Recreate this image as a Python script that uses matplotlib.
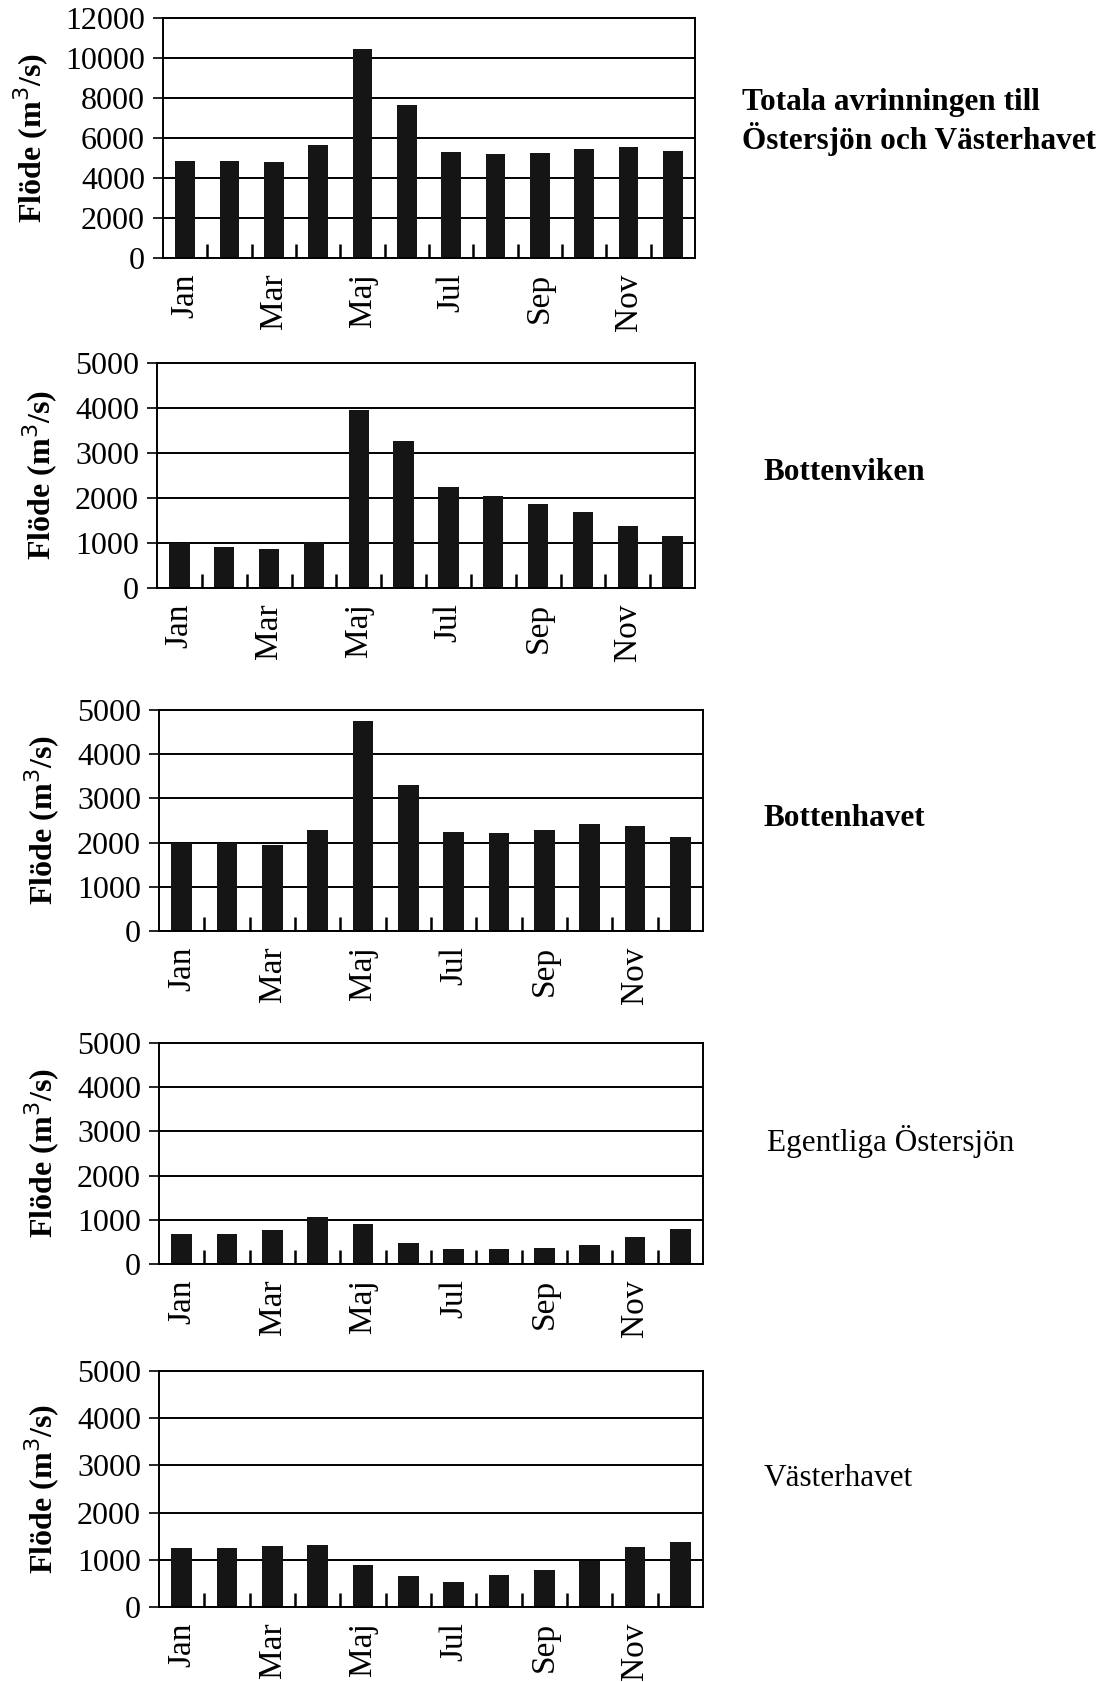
import numpy as np
import matplotlib
matplotlib.use("Agg")
import matplotlib.pyplot as plt

plt.rcParams["font.family"] = ["Liberation Serif", "DejaVu Serif"]

months = ["Jan", "Feb", "Mar", "Apr", "Maj", "Jun",
          "Jul", "Aug", "Sep", "Okt", "Nov", "Dec"]
shown_labels = ["Jan", "Mar", "Maj", "Jul", "Sep", "Nov"]

totala = [4850, 4850, 4800, 5650, 10450, 7650, 5300, 5200, 5250, 5450, 5550, 5350]
bottenviken = [1000, 920, 870, 1020, 3950, 3270, 2250, 2050, 1870, 1700, 1380, 1150]
bottenhavet = [1980, 1980, 1940, 2280, 4750, 3300, 2240, 2220, 2290, 2430, 2370, 2130]
egentliga = [680, 690, 780, 1060, 900, 480, 340, 330, 370, 430, 620, 790]
vasterhavet = [1250, 1250, 1290, 1320, 900, 660, 540, 680, 780, 980, 1270, 1380]

titles = ["Totala avrinningen till\nÖstersjön och Västerhavet",
          "Bottenviken", "Bottenhavet", "Egentliga Östersjön", "Västerhavet"]
title_bold = [True, True, True, False, False]
series = [totala, bottenviken, bottenhavet, egentliga, vasterhavet]
ymax = [12000, 5000, 5000, 5000, 5000]
ystep = [2000, 1000, 1000, 1000, 1000]

W, H = 1102, 1682
# axes boxes in pixels: left, right, top, bottom
boxes = [(163, 695, 18, 258),
         (157, 695, 363, 588),
         (159, 703, 710, 931),
         (159, 703, 1043, 1264),
         (159, 703, 1371, 1607)]
title_pos = [(742, 122), (764, 472), (764, 818), (767, 1141), (764, 1478)]
label_pad = [10, 11, 11, 11, 11]

fig = plt.figure(figsize=(W / 100, H / 100), dpi=100)
x = np.arange(len(months))

for vals, ym, st, box, ttl, bold, tp, lp in zip(series, ymax, ystep, boxes, titles,
                                                 title_bold, title_pos, label_pad):
    l, r, t, b = box
    ax = fig.add_axes([l / W, 1 - b / H, (r - l) / W, (b - t) / H])
    ax.set_axisbelow(True)
    ax.bar(x, vals, width=0.45, color="#151515", zorder=2)
    ax.set_xlim(-0.5, 11.5)
    ax.set_ylim(0, ym)
    ax.set_yticks(np.arange(0, ym + 1, st))
    ax.yaxis.grid(True, color="black", linewidth=1.4)
    ax.tick_params(axis="y", labelsize=23, length=7, width=1.2, pad=6)
    ax.set_xticks(x)
    ax.set_xticklabels([m if m in shown_labels else "" for m in months],
                       rotation=90, fontsize=24)
    ax.tick_params(axis="x", which="major", length=0, pad=11)
    ax.set_xticks(x[:-1] + 0.5, minor=True)
    ax.tick_params(axis="x", which="minor", direction="in", length=10, width=1.8)
    for sp in ax.spines.values():
        sp.set_linewidth(1.4)
    ax.set_ylabel("Flöde (m$^3$/s)", fontsize=23, fontweight="bold", labelpad=lp)
    fig.text(tp[0] / W, 1 - tp[1] / H, ttl, fontsize=22.5,
             fontweight="bold" if bold else "normal",
             ha="left", va="center", linespacing=1.2)

fig.savefig("out.png", dpi=100)
